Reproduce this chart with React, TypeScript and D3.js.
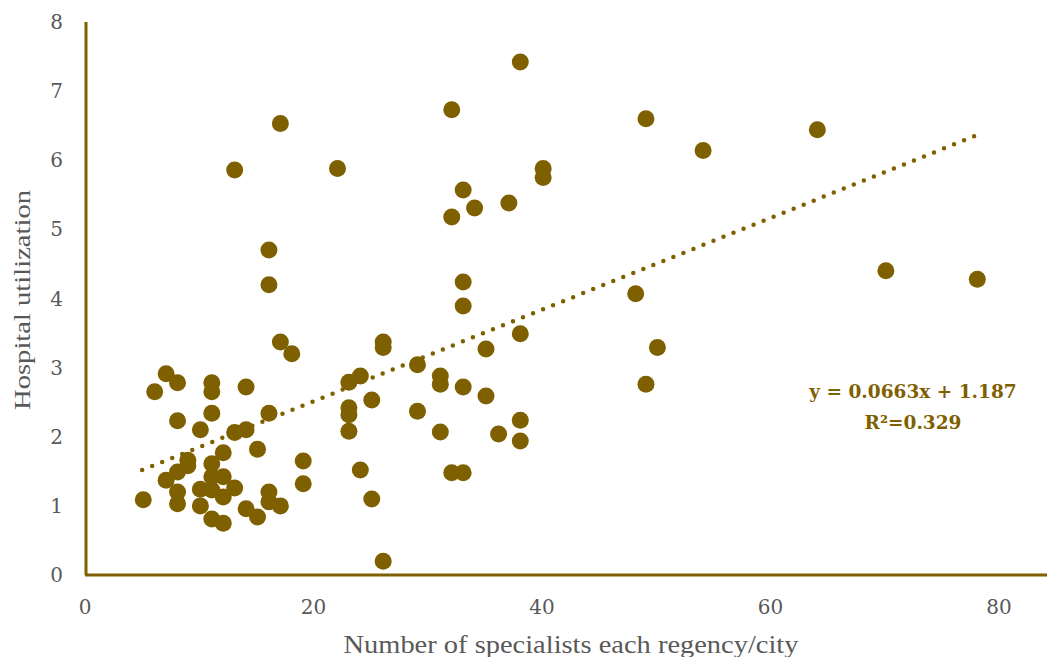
import React from "react";
import * as d3 from "d3";

const specialists = [
  5.1, 6.1, 7.1, 7.1, 8.1, 8.1, 8.1, 8.1, 8.1, 9.0, 9.0, 10.1, 10.1, 10.1,
  11.1, 11.1, 11.1, 11.1, 11.1, 11.1, 11.1, 12.1, 12.1, 12.1, 12.1, 13.1, 13.1, 13.1,
  14.1, 14.1, 14.1, 15.1, 15.1, 16.1, 16.1, 16.1, 16.1, 16.1, 17.1, 17.1, 17.1,
  18.1, 19.1, 19.1, 22.1, 23.1, 23.1, 23.1, 23.1, 24.1, 24.1, 25.1, 25.1,
  26.1, 26.1, 26.1, 29.1, 29.1, 31.1, 31.1, 31.1, 32.1, 32.1, 32.1,
  33.1, 33.1, 33.1, 33.1, 33.1, 34.1, 35.1, 35.1, 36.2, 37.1, 38.1, 38.1, 38.1, 38.1,
  40.1, 40.1, 48.2, 49.1, 49.1, 50.1, 54.1, 64.1, 70.1, 78.1,
];
const utilization = [
  1.09, 2.65, 2.91, 1.37, 2.78, 2.23, 1.49, 1.2, 1.03, 1.66, 1.58, 2.1, 1.24, 1.0,
  2.78, 2.65, 2.34, 1.61, 1.42, 1.23, 0.81, 1.77, 1.42, 1.13, 0.75, 5.86, 2.06, 1.26,
  2.72, 2.1, 0.96, 1.82, 0.84, 4.7, 4.2, 2.34, 1.2, 1.06, 6.53, 3.37, 1.0,
  3.2, 1.65, 1.32, 5.88, 2.79, 2.42, 2.32, 2.08, 2.88, 1.52, 2.53, 1.1,
  3.37, 3.29, 0.2, 3.04, 2.37, 2.88, 2.76, 2.07, 6.73, 5.18, 1.48,
  5.57, 4.24, 3.89, 2.72, 1.48, 5.31, 3.27, 2.59, 2.04, 5.38, 7.42, 3.49, 2.24, 1.94,
  5.88, 5.75, 4.07, 6.6, 2.76, 3.29, 6.14, 6.44, 4.4, 4.28,
];
const xTicks = [0, 20, 40, 60, 80];
const yTicks = [0, 1, 2, 3, 4, 5, 6, 7, 8];
const slope = 0.0663;
const intercept = 1.187;
const trendRange = [5, 78];
const equationText = "y = 0.0663x + 1.187";
const r2Text = "R²=0.329";
const xTitle = "Number of specialists each regency/city";
const yTitle = "Hospital utilization";

const W = 1047;
const H = 657;
const GOLD = "#7f6000";
const GRAY = "#595959";
const FONT = "'DejaVu Serif', 'Liberation Serif', serif";

export default function App() {
  const x = d3.scaleLinear().domain([0, 80]).range([85, 999]);
  const y = d3.scaleLinear().domain([0, 8]).range([575, 22]);
  const points = specialists.map((v, i) => [v, utilization[i]] as [number, number]);
  const trend = d3
    .line<number>()
    .x((d) => x(d))
    .y((d) => y(slope * d + intercept))(trendRange);

  return (
    <svg
      width={W}
      height={H}
      style={{ position: "absolute", left: 0, top: 0, background: "#fff" }}
    >
      {/* axes */}
      <line x1={x(0) + 1} x2={x(0) + 1} y1={y(8)} y2={y(0)} stroke={GOLD} strokeWidth={3} />
      <line x1={x(0)} x2={W} y1={y(0)} y2={y(0)} stroke={GOLD} strokeWidth={3} />

      {yTicks.map((t) => (
        <text
          key={"y" + t}
          x={63}
          y={y(t)}
          dy="0.35em"
          textAnchor="end"
          fontFamily={FONT}
          fontSize={20}
          fill={GRAY}
        >
          {t}
        </text>
      ))}
      {xTicks.map((t) => (
        <text
          key={"x" + t}
          x={x(t)}
          y={614}
          textAnchor="middle"
          fontFamily={FONT}
          fontSize={20}
          fill={GRAY}
        >
          {t}
        </text>
      ))}

      <text
        x={571}
        y={653}
        textAnchor="middle"
        fontFamily="'Liberation Serif', serif"
        fontSize={25}
        fill={GRAY}
        textLength={455}
        lengthAdjust="spacingAndGlyphs"
      >
        {xTitle}
      </text>
      <text
        transform={`translate(30,${300}) rotate(-90)`}
        textAnchor="middle"
        fontFamily="'Liberation Serif', serif"
        fontSize={24}
        fill={GRAY}
        textLength={220}
        lengthAdjust="spacingAndGlyphs"
      >
        {yTitle}
      </text>

      {/* points */}
      {points.map((p, i) => (
        <circle key={i} cx={x(p[0])} cy={y(p[1])} r={8.5} fill={GOLD} />
      ))}

      {/* trend line */}
      <path
        d={trend || ""}
        fill="none"
        stroke={GOLD}
        strokeWidth={4.5}
        strokeLinecap="round"
        strokeDasharray="0 10.8"
      />

      <text
        x={913}
        y={398}
        textAnchor="middle"
        fontFamily={FONT}
        fontSize={18.5}
        fontWeight="bold"
        fill={GOLD}
      >
        {equationText}
      </text>
      <text
        x={913}
        y={429}
        textAnchor="middle"
        fontFamily={FONT}
        fontSize={18.5}
        fontWeight="bold"
        fill={GOLD}
      >
        {r2Text}
      </text>
    </svg>
  );
}
